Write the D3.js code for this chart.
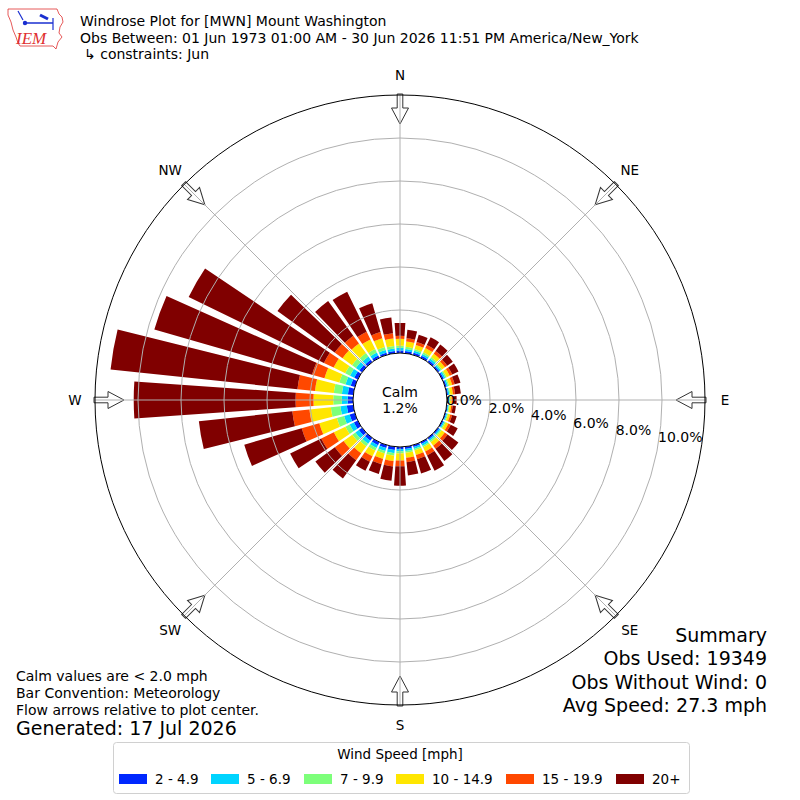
<!DOCTYPE html>
<html>
<head>
<meta charset="utf-8">
<script src="https://cdn.jsdelivr.net/npm/d3@7"></script>
<style>
  body { margin: 0; background: #fff; }
  svg { font-family: "DejaVu Sans", sans-serif; }
</style>
</head>
<body>
<svg id="chart" width="800" height="800"></svg>
<script>
'use strict';

// direction bins (degrees, meteorological convention)
var directions = [0, 10, 20, 30, 40, 50, 60, 70, 80, 90, 100, 110, 120, 130, 140, 150, 160, 170,
                  180, 190, 200, 210, 220, 230, 240, 250, 260, 270, 280, 290, 300, 310, 320, 330, 340, 350];

var speedBins   = ["2 - 4.9", "5 - 6.9", "7 - 9.9", "10 - 14.9", "15 - 19.9", "20+"];
var speedColors = ["#0028ff", "#00d4ff", "#7dff7a", "#ffe600", "#ff4800", "#800000"];

// percent frequency per direction, one array per speed bin
var s2to5   = [.12,.10,.10,.10,.10,.08,.08,.07,.06,.05,.05,.05,.06,.07,.08,.09,.09,.10,
               .10,.15,.14,.15,.16,.18,.20,.25,.30,.25,.25,.20,.18,.15,.13,.12,.10,.10];
var s5to7   = [.12,.10,.10,.10,.10,.08,.08,.07,.06,.05,.04,.05,.06,.07,.08,.09,.09,.10,
               .10,.15,.14,.15,.17,.20,.22,.27,.30,.27,.28,.25,.22,.20,.18,.15,.13,.12];
var s7to10  = [.10,.10,.08,.08,.08,.07,.07,.06,.05,.04,.04,.05,.06,.07,.08,.08,.08,.08,
               .10,.12,.12,.13,.15,.18,.22,.35,.45,.40,.38,.30,.25,.22,.20,.18,.15,.12];
var s10to15 = [.32,.25,.20,.22,.20,.17,.16,.14,.12,.08,.08,.10,.14,.18,.20,.22,.22,.24,
               .33,.25,.27,.30,.40,.50,.60,.85,1.0,.92,.88,.72,.60,.55,.55,.50,.42,.35];
var s15to20 = [.14,.15,.14,.16,.15,.13,.13,.12,.10,.07,.07,.09,.12,.16,.18,.20,.20,.20,
               .27,.25,.25,.28,.40,.50,.65,.85,.80,.83,.82,.60,.50,.45,.45,.40,.30,.25];
var s20plus = [.60,.40,.35,.40,.37,.32,.32,.28,.27,.16,.15,.22,.36,.62,.70,.80,.69,.62,
               .90,.67,.47,.47,1.05,1.12,1.61,2.78,4.37,7.53,8.74,7.63,7.00,3.29,1.99,2.07,1.39,.73];

var radialTicks = [0, 2, 4, 6, 8, 10];
var compass = [["N", 0], ["NE", 45], ["E", 90], ["SE", 135], ["S", 180], ["SW", 225], ["W", 270], ["NW", 315]];
var calmPct = 1.2;

var titleLines = ["Windrose Plot for [MWN] Mount Washington",
                  "Obs Between: 01 Jun 1973 01:00 AM - 30 Jun 2026 11:51 PM America/New_York",
                  "\u21b3 constraints: Jun"];
var noteLines = ["Calm values are < 2.0 mph", "Bar Convention: Meteorology", "Flow arrows relative to plot center."];
var generated = "Generated: 17 Jul 2026";
var summaryLines = ["Summary", "Obs Used: 19349", "Obs Without Wind: 0", "Avg Speed: 27.3 mph"];

var cx = 400, cy = 400,
    r0 = 47, R = 305,
    rad = Math.PI / 180;

var rScale = d3.scaleLinear().domain([0, 12]).range([r0, R]);

var svg = d3.select("#chart");

// stacked table built from the arrays
var series = [s2to5, s5to7, s7to10, s10to15, s15to20, s20plus];
var table = directions.map(function(dir, i) {
    var row = {dir: dir};
    speedBins.forEach(function(b, j) { row[b] = series[j][i]; });
    return row;
});
var stacked = d3.stack().keys(speedBins)(table);

var plot = svg.append("g").attr("transform", "translate(" + cx + "," + cy + ")");

var arc = d3.arc()
    .innerRadius(function(d) { return rScale(d[0]); })
    .outerRadius(function(d) { return rScale(d[1]); })
    .startAngle(function(d) { return (d.data.dir - 4) * rad; })
    .endAngle(function(d) { return (d.data.dir + 4) * rad; });

// bars
plot.selectAll("g.layer").data(stacked).enter().append("g")
    .attr("class", "layer")
    .attr("fill", function(d, i) { return speedColors[i]; })
    .selectAll("path").data(function(d) { return d; }).enter().append("path")
    .attr("d", arc);

// flow arrows at the rim, pointing to center
compass.forEach(function(c) {
    var hw = 2.8, hh = 8.5, tail = R + 1, neck = R - 13, tip = R - 29;
    var pts = [[-hw, -tail], [hw, -tail], [hw, -neck], [hh, -neck], [0, -tip], [-hh, -neck], [-hw, -neck]];
    plot.append("path")
        .attr("d", "M" + pts.join("L") + "Z")
        .attr("transform", "rotate(" + c[1] + ")")
        .attr("fill", "#fff")
        .attr("stroke", "#333")
        .attr("stroke-width", 1);
});

// grid: spokes and rings
compass.forEach(function(c) {
    var a = c[1] * rad;
    plot.append("line")
        .attr("x1", 0).attr("y1", 0)
        .attr("x2", R * Math.sin(a)).attr("y2", -R * Math.cos(a))
        .attr("stroke", "#b0b0b0").attr("stroke-width", 1);
});
radialTicks.slice(1).forEach(function(t) {
    plot.append("circle")
        .attr("r", rScale(t))
        .attr("fill", "none")
        .attr("stroke", "#b0b0b0").attr("stroke-width", 1);
});

// outer frame
plot.append("circle").attr("r", R)
    .attr("fill", "none").attr("stroke", "#000").attr("stroke-width", 1);

// calm circle
plot.append("circle").attr("r", r0)
    .attr("fill", "#fff").attr("stroke", "#000").attr("stroke-width", 1);
plot.append("text").attr("x", 0).attr("y", -3)
    .attr("text-anchor", "middle").style("font-size", "14px").text("Calm");
plot.append("text").attr("x", 0).attr("y", 13)
    .attr("text-anchor", "middle").style("font-size", "14px").text(calmPct.toFixed(1) + "%");

// radial tick labels at 100 degrees
var la = 100 * rad;
radialTicks.forEach(function(t) {
    var r = rScale(t);
    plot.append("text")
        .attr("x", r * Math.sin(la))
        .attr("y", -r * Math.cos(la) - 3)
        .style("font-size", "14px")
        .text(t.toFixed(1) + "%");
});

// compass labels
compass.forEach(function(c) {
    var a = c[1] * rad, r = 325;
    plot.append("text")
        .attr("x", r * Math.sin(a))
        .attr("y", -r * Math.cos(a))
        .attr("text-anchor", "middle")
        .attr("dominant-baseline", "central")
        .style("font-size", "13.5px")
        .text(c[0]);
});

// logo
var logo = svg.append("g");
logo.append("path")
    .attr("d", "M8,9 L57,9 L59,14 L62,17 L63,22 L60,27 L59,33 L62,37 L58,42 L56,49 L53,46 L20,46 L18,43 L16,37 L13,30 L11,22 L8,15 Z")
    .attr("fill", "none").attr("stroke", "#e03030").attr("stroke-width", 0.8);
logo.append("line").attr("x1", 23).attr("y1", 23).attr("x2", 53).attr("y2", 23)
    .attr("stroke", "#1a2fd0").attr("stroke-width", 1.5);
logo.append("circle").attr("cx", 25).attr("cy", 23).attr("r", 2.2).attr("fill", "#1a2fd0");
logo.append("line").attr("x1", 18).attr("y1", 11).attr("x2", 23).attr("y2", 20)
    .attr("stroke", "#1a2fd0").attr("stroke-width", 1.2);
logo.append("line").attr("x1", 40).attr("y1", 15).attr("x2", 48).attr("y2", 19)
    .attr("stroke", "#1a2fd0").attr("stroke-width", 3);
logo.append("line").attr("x1", 53).attr("y1", 18).attr("x2", 53).attr("y2", 30)
    .attr("stroke", "#1a2fd0").attr("stroke-width", 1.2);
logo.append("text").attr("x", 16).attr("y", 44)
    .style("font-family", "'Liberation Serif', serif").style("font-style", "italic")
    .style("font-size", "17px").attr("fill", "#e03030").text("IEM");

// header text
titleLines.forEach(function(t, i) {
    svg.append("text").attr("x", i === 2 ? 84 : 80).attr("y", 26 + i * 16.5)
        .style("font-size", "14px").text(t);
});

// notes bottom-left
noteLines.forEach(function(t, i) {
    svg.append("text").attr("x", 16).attr("y", 681 + i * 17)
        .style("font-size", "14px").text(t);
});
svg.append("text").attr("x", 16).attr("y", 735)
    .style("font-size", "19px").text(generated);

// summary bottom-right
summaryLines.forEach(function(t, i) {
    svg.append("text").attr("x", 767).attr("y", 642 + i * 23.3)
        .attr("text-anchor", "end")
        .style("font-size", "19px").text(t);
});

// legend
var legend = svg.append("g");
legend.append("rect").attr("x", 113.5).attr("y", 742.5).attr("width", 576).attr("height", 51)
    .attr("rx", 3).attr("fill", "#fff").attr("stroke", "#d0d0d0").attr("stroke-width", 1);
legend.append("text").attr("x", 400).attr("y", 759)
    .attr("text-anchor", "middle").style("font-size", "13.5px").text("Wind Speed [mph]");
var legendX = [119, 211, 304, 396, 506, 616];
speedBins.forEach(function(b, i) {
    legend.append("rect").attr("x", legendX[i]).attr("y", 774).attr("width", 28).attr("height", 10)
        .attr("fill", speedColors[i]);
    legend.append("text").attr("x", legendX[i] + 36).attr("y", 784)
        .style("font-size", "13.5px").text(b);
});
</script>
</body>
</html>
